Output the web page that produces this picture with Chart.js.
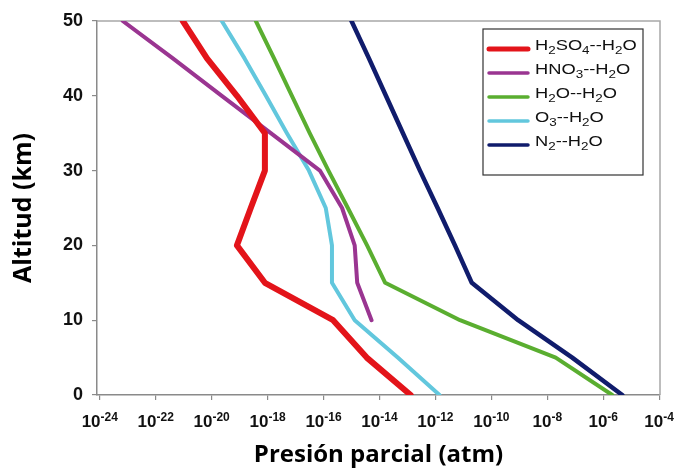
<!DOCTYPE html>
<html>
<head>
<meta charset="utf-8">
<script src="https://cdn.jsdelivr.net/npm/chart.js@4.4.1/dist/chart.umd.min.js"></script>
<style>
  html, body { margin: 0; padding: 0; background: #fff; }
  #wrap { width: 675px; height: 471px; position: relative; }
</style>
</head>
<body>
<div id="wrap"><canvas id="perfil"></canvas></div>
<script>
// Altitudes (km) where each profile was read
const altitudes = [0, 5, 10, 15, 20, 25, 30, 35, 40, 45, 50];

// Partial pressures (atm), one value per altitude
const h2so4 = [1.3e-13, 3.5e-15, 2.2e-16, 8e-19, 8e-20, 2.5e-19, 8e-19, 8e-19, 8e-20, 6.8e-21, 9.3e-22];
const hno3 = [null, null, 5.2e-15, 1.6e-15, 1.3e-15, 4.6e-16, 7.4e-17, 1.3e-18, 2.3e-20, 4.1e-22, 6.6e-24];
const h2o = [2.1e-6, 2e-8, 7.6e-12, 1.6e-14, 3.6e-15, 7.4e-16, 1.5e-16, 3.2e-17, 7.4e-18, 1.7e-18, 3.8e-19];
const o3 = [1.4e-12, 4.5e-14, 1.3e-15, 2e-16, 2e-16, 1.2e-16, 3e-17, 4.9e-18, 8.7e-19, 1.5e-19, 2.3e-20];
const n2 = [4.8e-6, 7.8e-8, 9.1e-10, 2e-11, 5e-12, 1.2e-12, 2.8e-13, 6.9e-14, 1.7e-14, 4.2e-15, 1e-15];

// Labels ("_n" = subscript digit)
const seriesLabels = ['H_2SO_4--H_2O', 'HNO_3--H_2O', 'H_2O--H_2O', 'O_3--H_2O', 'N_2--H_2O'];
const seriesColors = ['#e3141a', '#9a3591', '#5aae30', '#62c7dd', '#101c6c'];
const seriesWidths = [6, 4, 4, 4, 4.5];
const seriesValues = [h2so4, hno3, h2o, o3, n2];

// Tick exponents of the log axis and altitude ticks
const xTickExps = [-24, -22, -20, -18, -16, -14, -12, -10, -8, -6, -4];
const yTicks = [0, 10, 20, 30, 40, 50];

const datasets = seriesValues.map((vals, i) => ({
    label: seriesLabels[i],
    data: altitudes.map((a, j) => (vals[j] == null ? null : { x: vals[j], y: a })).filter(p => p),
    borderColor: seriesColors[i],
    backgroundColor: seriesColors[i],
    borderWidth: seriesWidths[i],
    borderCapStyle: 'round',
    borderJoinStyle: 'round',
    pointRadius: 0,
    tension: 0,
    fill: false
}));

// draw text where "_d" makes d a subscript (stretched a bit sideways like the original)
function drawSubText(ctx, str, x, y, size, stretch) {
    ctx.save();
    ctx.translate(x, y);
    ctx.scale(stretch, 1);
    let cx = 0;
    for (let i = 0; i < str.length; i++) {
        if (str[i] === '_') {
            ctx.font = (size - 4) + 'px "Liberation Sans"';
            ctx.fillText(str[i + 1], cx, 5);
            cx += ctx.measureText(str[i + 1]).width;
            i++;
        } else {
            ctx.font = size + 'px "Liberation Sans"';
            ctx.fillText(str[i], cx, 0);
            cx += ctx.measureText(str[i]).width;
        }
    }
    ctx.restore();
}

const framePlugin = {
    id: 'frame',
    beforeDatasetsDraw(chart) {
        const { ctx, chartArea: a } = chart;
        ctx.save();
        ctx.strokeStyle = '#a8a8a8';
        ctx.lineWidth = 1.5;
        ctx.beginPath();
        ctx.moveTo(a.left, a.top);
        ctx.lineTo(a.right, a.top);
        ctx.lineTo(a.right, a.bottom);
        ctx.stroke();
        ctx.restore();
    },
    afterDraw(chart) {
        const ctx = chart.ctx;
        const xs = chart.scales.x;
        ctx.save();
        ctx.fillStyle = '#111';
        ctx.textBaseline = 'alphabetic';
        // x tick labels 10^n
        xTickExps.forEach(e => {
            const px = xs.getPixelForValue(Math.pow(10, e));
            ctx.font = 'bold 17px "Liberation Sans"';
            const wb = ctx.measureText('10').width;
            ctx.font = 'bold 12px "Liberation Sans"';
            const sup = String(e);
            const ws = ctx.measureText(sup).width;
            const x0 = px - (wb + ws) / 2;
            ctx.font = 'bold 17px "Liberation Sans"';
            ctx.fillText('10', x0, 427);
            ctx.font = 'bold 12px "Liberation Sans"';
            ctx.fillText(sup, x0 + wb, 421);
        });

        // legend
        const bx = 483, by = 29, bw = 160, bh = 146;
        ctx.fillStyle = '#fff';
        ctx.fillRect(bx, by, bw, bh);
        ctx.strokeStyle = '#333';
        ctx.lineWidth = 1.2;
        ctx.strokeRect(bx, by, bw, bh);
        const rowsY = [49, 73, 97, 121, 145];
        ctx.textBaseline = 'middle';
        seriesLabels.forEach((lab, i) => {
            ctx.strokeStyle = seriesColors[i];
            ctx.lineWidth = i === 0 ? 5 : 3.5;
            ctx.lineCap = 'round';
            ctx.beginPath();
            ctx.moveTo(489, rowsY[i]);
            ctx.lineTo(528, rowsY[i]);
            ctx.stroke();
            ctx.fillStyle = '#111';
            drawSubText(ctx, lab, 535, rowsY[i] - 3, 15, 1.22);
        });
        ctx.restore();
    }
};

const config = {
    type: 'line',
    data: { datasets: datasets },
    options: {
        responsive: true,
        maintainAspectRatio: false,
        animation: false,
        layout: { padding: { top: 21, right: 15, left: 0, bottom: 0 } },
        plugins: {
            legend: { display: false },
            tooltip: { enabled: false }
        },
        scales: {
            x: {
                type: 'logarithmic',
                min: Math.pow(10, -24.1),
                max: Math.pow(10, -3.97),
                afterBuildTicks: s => { s.ticks = xTickExps.map(e => ({ value: Math.pow(10, e) })); },
                afterFit: s => { s.height = 76; },
                ticks: { display: false },
                grid: { drawOnChartArea: false, drawTicks: true, tickLength: 5, color: '#8a8a8a', lineWidth: 1.2 },
                border: { color: '#8a8a8a', width: 1.5 },
                title: {
                    display: true,
                    text: 'Presión parcial (atm)',
                    color: '#000',
                    font: { family: '"Open Sans"', size: 24, weight: 'bold' },
                    padding: { top: 0, bottom: 1 }
                }
            },
            y: {
                type: 'linear',
                min: 0,
                max: 50,
                afterBuildTicks: s => { s.ticks = yTicks.map(v => ({ value: v })); },
                afterFit: s => { s.width = 97; },
                ticks: {
                    color: '#111',
                    padding: 9,
                    font: { family: '"Liberation Sans"', size: 18, weight: 'bold' }
                },
                grid: { drawOnChartArea: false, drawTicks: true, tickLength: 5, color: '#8a8a8a', lineWidth: 1.2 },
                border: { color: '#8a8a8a', width: 1.5 },
                title: {
                    display: true,
                    text: 'Altitud (km)',
                    color: '#000',
                    font: { family: '"Open Sans"', size: 25, weight: 'bold' },
                    padding: { top: 9, bottom: 0 }
                }
            }
        }
    },
    plugins: [framePlugin]
};

const ctx = document.getElementById('perfil').getContext('2d');
new Chart(ctx, config);
</script>
</body>
</html>
